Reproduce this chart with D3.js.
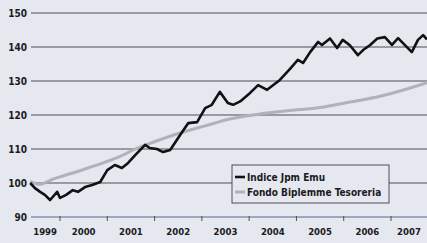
<!DOCTYPE html>
<html><head><meta charset="utf-8">
<script src="https://cdn.jsdelivr.net/npm/d3@7"></script>
<style>
html,body{margin:0;padding:0;background:#e5e8ee;}
svg{display:block;}
text{font-family:"Liberation Sans Narrow","Arial Narrow","DejaVu Sans Condensed",sans-serif;font-weight:bold;fill:#1a1a22;}
</style></head><body>
<script>
// Data (fractional years, index values)
const jpmDates = [1999.37,1999.47,1999.58,1999.68,1999.79,1999.94,2000.0,2000.13,2000.27,2000.38,2000.53,2000.68,2000.85,2001.0,2001.16,2001.31,2001.44,2001.59,2001.80,2001.90,2002.05,2002.18,2002.33,2002.54,2002.71,2002.90,2003.07,2003.21,2003.38,2003.55,2003.66,2003.81,2004.02,2004.19,2004.38,2004.65,2004.86,2005.03,2005.14,2005.29,2005.46,2005.54,2005.71,2005.86,2005.98,2006.13,2006.30,2006.41,2006.56,2006.71,2006.87,2007.02,2007.15,2007.30,2007.44,2007.57,2007.68,2007.76];
const jpmValues = [100,98.5,97.4,96.5,95,97.4,95.6,96.5,97.9,97.4,98.8,99.4,100.3,103.8,105.3,104.4,105.9,108.2,111.2,110.3,110,109.1,109.7,114.1,117.6,117.9,122,123,126.8,123.5,123,124,126.5,128.8,127.4,130.3,133.5,136.2,135.3,138.5,141.5,140.6,142.5,139.7,142.1,140.5,137.6,139.1,140.6,142.5,142.9,140.6,142.6,140.5,138.5,142.1,143.5,142.2];
const fondoDates = [1999.37,1999.58,1999.79,2000.0,2000.42,2000.85,2001.27,2001.59,2002.01,2002.54,2003.07,2003.59,2004.23,2004.86,2005.50,2006.13,2006.77,2007.30,2007.76];
const fondoValues = [100.5,99.6,100.8,101.8,103.6,105.6,107.8,110,112.2,114.7,116.8,118.8,120.3,121.3,122.2,123.8,125.5,127.5,129.5];
const yTicks = [90,100,110,120,130,140,150];
const yearLabels = ["1999","2000","2001","2002","2003","2004","2005","2006","2007"];
const seriesNames = ["Indice Jpm Emu","Fondo Biplemme Tesoreria"];

const W=427,H=243;
const svg=d3.select("body").append("svg").attr("width",W).attr("height",H);
const x=d3.scaleLinear().domain([2000,2007]).range([60,391]);
const y=d3.scaleLinear().domain([90,150]).range([217,13]);
const xMin=x(jpmDates[0]);

// gridlines
svg.append("g").selectAll("line").data(yTicks).join("line")
  .attr("x1",31).attr("x2",W).attr("y1",d=>y(d)).attr("y2",d=>y(d))
  .attr("stroke",d=>d===90?"#5a6590":"#4e4f5a").attr("stroke-width",1.2);
svg.append("g").selectAll("text").data(yTicks).join("text")
  .attr("x",27).attr("y",d=>y(d)).attr("dy","0.35em").attr("text-anchor","end")
  .attr("font-size",10).text(d=>d);

// x ticks at year boundaries
const yearStarts=d3.range(2000,2008);
svg.append("g").selectAll("line").data(yearStarts).join("line")
  .attr("x1",d=>x(d)).attr("x2",d=>x(d)).attr("y1",y(90)-1).attr("y2",y(90)+4)
  .attr("stroke","#4e4f5a").attr("stroke-width",1);
svg.append("g").selectAll("text").data(yearLabels).join("text")
  .attr("x",d=>{const s=Math.max(x(+d),xMin), e=Math.min(x(+d+1),W); return (s+e)/2;})
  .attr("y",232).attr("dy","0.35em").attr("text-anchor","middle")
  .attr("font-size",9.5).text(d=>d);

const line=d3.line().x(d=>x(d[0])).y(d=>y(d[1]));
svg.append("path").datum(d3.zip(fondoDates,fondoValues)).attr("d",line.curve(d3.curveMonotoneX))
  .attr("fill","none").attr("stroke","#aeb2bb").attr("stroke-width",3);
svg.append("path").datum(d3.zip(jpmDates,jpmValues)).attr("d",d3.line().x(d=>x(d[0])).y(d=>y(d[1])))
  .attr("fill","none").attr("stroke","#111114").attr("stroke-width",2.6).attr("stroke-linejoin","round");

// legend
const lg=svg.append("g");
lg.append("rect").attr("x",232).attr("y",165).attr("width",157).attr("height",38)
  .attr("fill","#e5e8ee").attr("stroke","#4e4f5a").attr("stroke-width",1);
const cols=["#111114","#aeb2bb"];
seriesNames.forEach((n,i)=>{
  const yy=177+i*15;
  lg.append("line").attr("x1",235).attr("x2",245).attr("y1",yy).attr("y2",yy)
    .attr("stroke",cols[i]).attr("stroke-width",i?3:2.6);
  lg.append("text").attr("x",247).attr("y",yy).attr("dy","0.35em").attr("font-size",10).text(n);
});
</script>
</body></html>
